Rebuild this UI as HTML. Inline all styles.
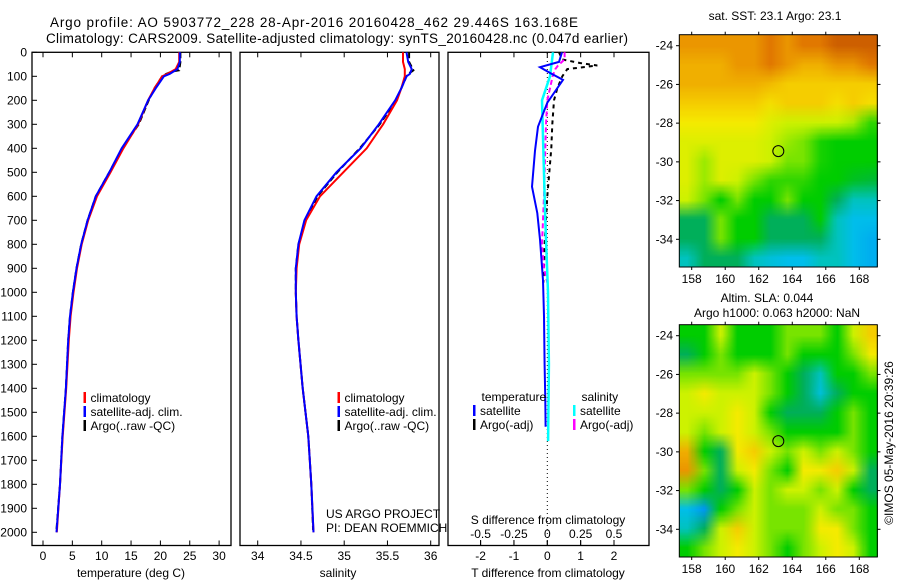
<!DOCTYPE html>
<html><head><meta charset="utf-8">
<style>
html,body{margin:0;padding:0;background:#fff;}
#wrap{position:relative;width:900px;height:580px;overflow:hidden;font-family:"Liberation Sans",sans-serif;}
canvas{position:absolute;}
svg{position:absolute;left:0;top:0;}
text{font-family:"Liberation Sans",sans-serif;font-size:12px;fill:#000;}
</style></head>
<body>
<div id="wrap">
<canvas id="sstMap" style="left:679px;top:35px;" width="199" height="232"></canvas>
<canvas id="slaMap" style="left:679px;top:325px;" width="199" height="232"></canvas>
<svg id="svg" width="900" height="580" xmlns="http://www.w3.org/2000/svg">
<text x="50" y="27" textLength="528" style="font-size:13.5px">Argo profile: AO 5903772_228 28-Apr-2016 20160428_462 29.446S 163.168E</text>
<text x="46" y="43" textLength="582" style="font-size:13.5px">Climatology: CARS2009. Satellite-adjusted climatology: synTS_20160428.nc (0.047d earlier)</text>
</svg>
</div>
<script>
// ---------- data ----------
const depthTicks=[0,100,200,300,400,500,600,700,800,900,1000,1100,1200,1300,1400,1500,1600,1700,1800,1900,2000];
const tempTicks=[0,5,10,15,20,25,30];
const salTicks=[34,34.5,35,35.5,36];
const tdiffTicks=[-2,-1,0,1,2];
const sdiffTicks=[-0.5,-0.25,0,0.25,0.5];
const sdiffLabels=["-0.5","-0.25","0","0.25","0.5"];

const climDepth=[0,40,70,90,100,150,200,300,400,500,600,700,800,900,1000,1100,1200,1400,1600,1800,2000];
const climTemp=[23.2,23.2,22.6,21.2,20.3,19.0,17.9,16.2,13.7,11.5,9.2,7.7,6.6,5.8,5.2,4.7,4.4,3.95,3.35,2.9,2.35];
const satTemp=[23.3,23.3,22.9,21.6,20.6,19.2,17.9,16.1,13.4,11.3,9.0,7.6,6.5,5.7,5.1,4.6,4.3,3.9,3.3,2.9,2.3];
const argoDepth=[0,40,75,80,90,100,150,200,300,400,500,600,700,800,900,1000,1100,1200,1400,1600,1800,1990];
const argoTemp=[23.4,23.4,23.2,22.0,21.0,20.3,19.0,18.0,16.3,13.5,11.3,9.0,7.6,6.5,5.7,5.1,4.6,4.3,3.9,3.3,2.9,2.3];

const climSal=[35.68,35.68,35.70,35.70,35.70,35.66,35.61,35.45,35.26,34.99,34.72,34.56,34.48,34.45,34.44,34.45,34.47,34.52,34.585,34.62,34.645];
const satSal=[35.72,35.74,35.78,35.76,35.72,35.66,35.59,35.40,35.19,34.91,34.68,34.54,34.47,34.44,34.44,34.45,34.47,34.52,34.585,34.62,34.645];
const argoSal=[35.75,35.75,35.80,35.78,35.74,35.72,35.66,35.60,35.41,35.18,34.92,34.69,34.55,34.47,34.44,34.44,34.45,34.47,34.52,34.585,34.62,34.64];

const diffDepth=[0,40,62,87,115,210,310,410,560,670,780,950,1100,1300,1450,1560];
const tDiffSat=[0.44,0.35,-0.22,0.1,0.47,0.0,-0.28,-0.37,-0.46,-0.3,-0.22,-0.13,-0.1,-0.08,-0.06,-0.05];
const sDiffDepth=[0,100,200,400,700,1000,1300,1620];
const sDiffSat=[0.043,0.02,-0.04,-0.03,-0.015,0.005,0.012,0.006];
const aDiffDepth=[0,30,45,55,70,100,150,200,300,400,500,600,800,900,960];
const tDiffArgo=[0.35,0.45,1.0,1.5,0.6,0.45,0.3,0.2,0.15,0.12,0.06,0.0,-0.08,-0.1,-0.12];
const sDiffArgo=[0.13,0.13,0.1,0.08,0.06,0.04,0.02,0.0,-0.01,-0.015,-0.02,-0.025,-0.04,-0.025,0.0];

const lonTicks=[158,160,162,164,166,168];
const latTicks=[-24,-26,-28,-30,-32,-34];
const sstGrid=[
[5.5,5.5,5.5,5.5,5.5,6,5.5,6,6,6.5,6.5,6.5],
[5,5,5,5.5,5.5,6,5.5,5,5,5.5,5.5,6],
[5,5,5,5,5,4.8,4.5,4.5,4.5,4.5,4.5,4.5],
[4.5,4.5,4.5,4.5,4.5,4.2,4.5,4.5,4.5,4.2,4.5,4.2],
[4,4,4,4,4,3.7,3.5,3.5,3.5,3.5,3.3,2.7],
[3.7,3.7,3.7,3.7,3.7,3.5,3.2,3,2.6,2.5,2.5,2.5],
[3.7,3.2,3.7,3.7,3.7,3.5,3,3,2.6,2.5,2.5,2.5],
[3.7,3.2,3.7,3.5,3,2.7,2.7,2.7,2.5,2.5,2.3,2.2],
[3.5,3,2.5,3,2.5,2.5,3,2.5,2.5,2,1.5,1.5],
[2,2,3,2.5,2.5,2,2,2,2.5,1.5,1,1],
[2,2,3,2.5,2.5,2,2,2,2,1.5,1,0.8],
[1.5,2,2,2,1.5,1.2,1,1,1.5,1.5,1,0.8]];
const slaGrid=[
[2.5,2.5,3.5,2.5,2.5,2.5,3,3,3,2.5,3.5,4.5],
[2,2.5,3,2.5,2.5,2.5,3,2.5,2.5,2.5,3,4],
[3,3,3,3,3.5,3,2.5,2,1.5,2.5,2.5,3],
[3.5,4,3.5,3.5,3.5,3,2.5,2,1.2,2,2.5,2.5],
[3.5,3.5,3.5,4,3.5,2.5,2,2,2,2.5,3,2.5],
[3.5,3,3.5,4,3.5,3,2.5,2.5,2.5,2.5,3,2.5],
[5,2.5,2,4,4.5,3.5,3,3.5,3,3.5,3,2.5],
[5.5,3,2,3.5,4,3,2.5,4,4,4.5,3.5,2],
[3,2.5,2,2.5,3.5,3,3.5,3.5,3,3.5,2.5,2],
[1,0.5,2.5,3,3.5,3,3,3,3.5,3,3,2.5],
[1.5,2,3.5,4.5,3.5,3,3,3,4,4,3,2.5],
[2.5,3,3.5,4,3.5,3,2.5,3,3.5,4,3.5,2.5]];

// ---------- scales ----------
const yD=d=>52.3+d*0.24;
const xT=t=>43+t*5.87;
const xS=s=>257.7+(s-34)*86.5;
const xTD=t=>547.3+t*33.35;
const xSD=s=>547.3+s*133.4;
const mapX=lon=>691.7+(lon-158)*16.76;
const mapY1=lat=>45.7+(-24-lat)*19.36;
const mapY2=lat=>335.7+(-24-lat)*19.36;

const NS="http://www.w3.org/2000/svg";
const svg=document.getElementById('svg');
function mk(tag,attrs,parent){const e=document.createElementNS(NS,tag);for(const k in attrs)e.setAttribute(k,attrs[k]);(parent||svg).appendChild(e);return e;}
function txt(x,y,s,anchor,parent){const t=mk('text',{x:x,y:y,'text-anchor':anchor||'start'},parent);t.textContent=s;return t;}

// ---------- colormap & maps ----------
const cstops=[[0,[0,110,255]],[1,[0,190,235]],[1.5,[0,195,190]],[2,[0,175,90]],[2.5,[0,205,0]],[3,[120,228,0]],[3.5,[205,242,0]],[4,[245,235,0]],[4.5,[245,205,0]],[5,[240,175,0]],[5.5,[235,150,0]],[6,[225,120,0]],[6.5,[205,95,0]]];
function cmap(v){for(let i=1;i<cstops.length;i++){if(v<=cstops[i][0]){const a=cstops[i-1],b=cstops[i];const f=(v-a[0])/(b[0]-a[0]);return a[1].map((c,j)=>Math.round(c+(b[1][j]-c)*Math.max(0,f)));}}return cstops[cstops.length-1][1];}
function drawMap(id,grid){
  const c=document.getElementById(id),ctx=c.getContext('2d');
  const rows=grid.length,cols=grid[0].length;
  const s=document.createElement('canvas');s.width=cols;s.height=rows;
  const sc=s.getContext('2d');const im=sc.createImageData(cols,rows);
  for(let r=0;r<rows;r++)for(let q=0;q<cols;q++){const col=cmap(grid[r][q]);const k=(r*cols+q)*4;im.data[k]=col[0];im.data[k+1]=col[1];im.data[k+2]=col[2];im.data[k+3]=255;}
  sc.putImageData(im,0,0);
  ctx.imageSmoothingEnabled=true;ctx.drawImage(s,0,0,c.width,c.height);
}
drawMap('sstMap',sstGrid);
drawMap('slaMap',slaGrid);

// ---------- panels ----------
const panels=[{x0:32,x1:231,name:'temperature-panel'},{x0:240,x1:439,name:'salinity-panel'},{x0:448,x1:649,name:'difference-panel'}];
panels.forEach(p=>{
  const g=mk('g',{});
  
  
  mk('rect',{x:p.x0,y:52.3,width:p.x1-p.x0,height:545.5-52.3,fill:'none',stroke:'#000','stroke-width':1.3},g);
});
const yax=mk('g',{});


depthTicks.forEach(d=>{mk('line',{x1:32,x2:37,y1:yD(d),y2:yD(d),stroke:'#000'},yax);txt(27,yD(d)+4,String(d),'end',yax);});
function xAxis(ticks,labels,fx,y0,name,tickTop){
  const g=mk('g',{});
  
  
  ticks.forEach((t,i)=>{mk('line',{x1:fx(t),x2:fx(t),y1:545.5,y2:540.5,stroke:'#000'},g);if(tickTop)mk('line',{x1:fx(t),x2:fx(t),y1:52.3,y2:57.3,stroke:'#000'},g);txt(fx(t),y0,labels[i],'middle',g);});
}
xAxis(tempTicks,tempTicks.map(String),xT,560,'temperature-x-axis',true);
xAxis(salTicks,salTicks.map(String),xS,560,'salinity-x-axis',true);
xAxis(tdiffTicks,tdiffTicks.map(String),xTD,560,'t-difference-x-axis',true);
const sax=mk('g',{});


sdiffTicks.forEach((s,i)=>{mk('line',{x1:xSD(s),x2:xSD(s),y1:545.5,y2:540,stroke:'#000'},sax);txt(xSD(s),538,sdiffLabels[i],'middle',sax);});
let t;
t=txt(131,577,'temperature (deg C)','middle');
t=txt(338,577,'salinity','middle');
t=txt(548,577,'T difference from climatology','middle');
t=txt(548,524,'S difference from climatology','middle');

mk('line',{x1:xTD(0),x2:xTD(0),y1:53,y2:545,stroke:'#000','stroke-width':1,'stroke-dasharray':'1,3'});

function line(xs,ds,fx,color,dash,name,w){
  const pts=xs.map((v,i)=>fx(v).toFixed(1)+','+yD(ds[i]).toFixed(1)).join(' ');
  const e=mk('polyline',{points:pts,fill:'none',stroke:color,'stroke-width':w||2});
  if(dash)e.setAttribute('stroke-dasharray',dash);
  
  
  return e;
}
line(argoTemp,argoDepth,xT,'#000','6,3','argo-temperature-line');
line(climTemp,climDepth,xT,'#f00',null,'climatology-temperature-line');
line(satTemp,climDepth,xT,'#00f',null,'satellite-temperature-line');
line(argoSal,argoDepth,xS,'#000','6,3','argo-salinity-line');
line(climSal,climDepth,xS,'#f00',null,'climatology-salinity-line');
line(satSal,climDepth,xS,'#00f',null,'satellite-salinity-line');
line(tDiffArgo,aDiffDepth,xTD,'#000','4,4','argo-t-difference-line');
line(sDiffArgo,aDiffDepth,xSD,'#f0f','5,3','argo-s-difference-line');
line(sDiffSat,sDiffDepth,xSD,'#0ff',null,'satellite-s-difference-line',2.5);
line(tDiffSat,diffDepth,xTD,'#00f',null,'satellite-t-difference-line');

function legend(x,y,color,label,name){
  const g=mk('g',{});
  
  
  mk('rect',{x:x,y:y-6,width:2.5,height:11,fill:color},g);
  txt(x+7,y+4,label,'start',g);
}
legend(83.5,398,'#f00','climatology','legend-climatology');
legend(83.5,412,'#00f','satellite-adj. clim.','legend-satellite-adj');
legend(83.5,426,'#000','Argo(..raw -QC)','legend-argo-raw');
legend(337.5,398,'#f00','climatology','legend-sal-climatology');
legend(337.5,412,'#00f','satellite-adj. clim.','legend-sal-satellite-adj');
legend(337.5,426,'#000','Argo(..raw -QC)','legend-sal-argo-raw');
t=txt(481.5,401,'temperature');
t=txt(581.5,401,'salinity');
legend(473,411,'#00f','satellite','legend-t-satellite');
legend(473,425,'#000','Argo(-adj)','legend-t-argo');
legend(573,411,'#0ff','satellite','legend-s-satellite');
legend(573,425,'#f0f','Argo(-adj)','legend-s-argo');
t=txt(326,518,'US ARGO PROJECT');
t=txt(326,532,'PI: DEAN ROEMMICH');

function mapFrame(y0,y1,fy,name){
  const g=mk('g',{});
  
  
  mk('rect',{x:679.3,y:y0,width:198,height:y1-y0,fill:'none',stroke:'#000','stroke-width':1},g);
  lonTicks.forEach(l=>{mk('line',{x1:mapX(l),x2:mapX(l),y1:y0,y2:y0-3,stroke:'#000'},g);mk('line',{x1:mapX(l),x2:mapX(l),y1:y1,y2:y1+3,stroke:'#000'},g);txt(mapX(l),y1+16,String(l),'middle',g);});
  latTicks.forEach(l=>{mk('line',{x1:679.3,x2:676,y1:fy(l),y2:fy(l),stroke:'#000'},g);mk('line',{x1:877.3,x2:880.5,y1:fy(l),y2:fy(l),stroke:'#000'},g);txt(673,fy(l)+4,String(l),'end',g);});
  const c=mk('circle',{cx:mapX(163.168),cy:fy(-29.446),r:5.5,fill:'none',stroke:'#000','stroke-width':1},g);
  
  
}
mapFrame(34.7,267,mapY1,'sst-map-frame');
mapFrame(324.7,557,mapY2,'sla-map-frame');
t=txt(775,20,'sat. SST: 23.1  Argo: 23.1','middle');
t=txt(767,302,'Altim. SLA: 0.044','middle');
t=txt(777,317,'Argo h1000: 0.063 h2000: NaN','middle');
t=txt(0,0,'©IMOS 05-May-2016 20:39:26','middle');
t.setAttribute('transform','translate(893,443) rotate(-90)');


</script>
</body></html>
